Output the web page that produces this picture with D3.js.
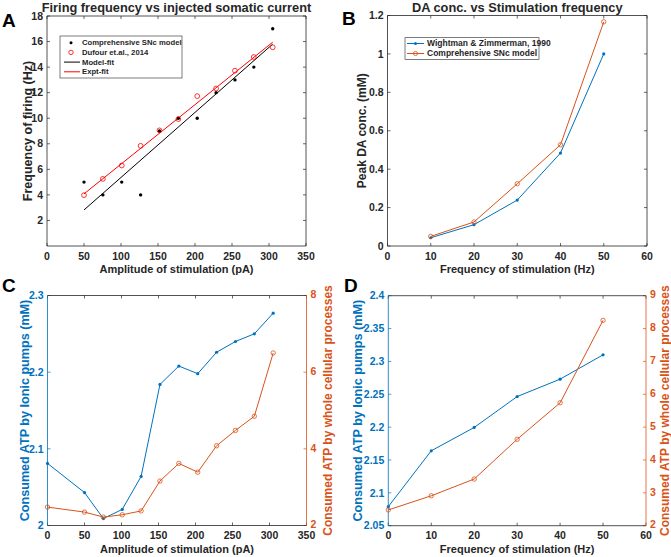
<!DOCTYPE html>
<html lang="en">
<head>
<meta charset="utf-8">
<title>SNc model figure</title>
<script src="https://d3js.org/d3.v7.min.js"></script>
<style>
  body { margin: 0; background: #fff; }
  svg text { font-family: "Liberation Sans", Arial, sans-serif; font-weight: bold; fill: #262626; }
  .tick-label { font-size: 10.5px; }
  .axis-title { font-size: 12px; }
  .x-title { font-size: 11px; }
  .panel-title { font-size: 12.8px; }
  .panel-letter { font-size: 19px; fill: #000; }
</style>
</head>
<body>
<div id="chart"></div>
<script>
// ---- data ----
// A: firing frequency vs injected current
const ampA = [50, 75.5, 101, 126.5, 152, 177.5, 203, 228.5, 254, 279.5, 305];
const modelFreqA = [5, 4, 5, 4, 9, 10, 10, 12, 13, 14, 17];
const dufourFreqA = [3.98, 5.25, 6.3, 7.84, 9.05, 9.93, 11.73, 12.33, 13.72, 14.79, 15.55];
const modelFitA = [[50, 2.82], [305, 15.8]];
const exptFitA = [[50, 4.08], [305, 15.95]];

// B: DA conc vs stimulation frequency
const freqB = [10, 20, 30, 40, 50];
const wightmanB = [0.043, 0.111, 0.239, 0.484, 1.0];
const snModelB = [0.05, 0.125, 0.324, 0.527, 1.167];

// C: consumed ATP vs amplitude
const ampC = [0, 50, 75.5, 101, 126.5, 152, 177.5, 203, 228.5, 254, 279.5, 305];
const pumpsC = [2.081, 2.043, 2.009, 2.021, 2.064, 2.184, 2.208, 2.198, 2.226, 2.240, 2.250, 2.277];
const wholeC = [2.48, 2.35, 2.22, 2.28, 2.38, 3.16, 3.62, 3.39, 4.08, 4.48, 4.85, 6.50];

// D: consumed ATP vs frequency
const freqD = [0, 10, 20, 30, 40, 50];
const pumpsD = [2.079, 2.164, 2.1995, 2.2465, 2.273, 2.310];
const wholeD = [2.48, 2.91, 3.42, 4.63, 5.74, 8.25];

const blue = "#0072BD", orange = "#D95319", axisCol = "#262626";

const svg = d3.select("#chart").append("svg")
    .attr("width", 671).attr("height", 557);
svg.append("rect").attr("width", 671).attr("height", 557).attr("fill", "#fff");

// draws box, ticks and labels; returns scales
function panel(o) {
  const g = svg.append("g");
  const x = d3.scaleLinear().domain(o.xDomain).range([o.left, o.right]);
  const y = d3.scaleLinear().domain(o.yDomain).range([o.bottom, o.top]);
  const y2 = o.y2Domain ? d3.scaleLinear().domain(o.y2Domain).range([o.bottom, o.top]) : null;
  const tl = 3;
  const leftCol = o.leftCol || axisCol, rightCol = o.rightCol || axisCol;

  // x ticks bottom + top (mirrored, inward)
  o.xTicks.forEach(t => {
    g.append("line").attr("x1", x(t)).attr("x2", x(t)).attr("y1", o.bottom).attr("y2", o.bottom - tl)
      .attr("stroke", axisCol).attr("stroke-width", 0.7);
    g.append("line").attr("x1", x(t)).attr("x2", x(t)).attr("y1", o.top).attr("y2", o.top + tl)
      .attr("stroke", axisCol).attr("stroke-width", 0.7);
    g.append("text").attr("class", "tick-label").attr("x", x(t)).attr("y", o.bottom + 13.5)
      .attr("text-anchor", "middle").text(t);
  });
  // left ticks
  o.yTicks.forEach(t => {
    g.append("line").attr("x1", o.left).attr("x2", o.left + tl).attr("y1", y(t)).attr("y2", y(t))
      .attr("stroke", leftCol).attr("stroke-width", 0.7);
    if (!y2) g.append("line").attr("x1", o.right).attr("x2", o.right - tl).attr("y1", y(t)).attr("y2", y(t))
      .attr("stroke", axisCol).attr("stroke-width", 0.7);
    g.append("text").attr("class", "tick-label").attr("x", o.left - 4).attr("y", y(t)).attr("dy", "0.35em")
      .attr("text-anchor", "end").style("fill", leftCol).text(t);
  });
  if (y2) {
    o.y2Ticks.forEach(t => {
      g.append("line").attr("x1", o.right).attr("x2", o.right - tl).attr("y1", y2(t)).attr("y2", y2(t))
        .attr("stroke", rightCol).attr("stroke-width", 0.7);
      g.append("text").attr("class", "tick-label").attr("x", o.right + 4).attr("y", y2(t) - 1).attr("dy", "0.35em")
        .attr("text-anchor", "start").style("fill", rightCol).text(t);
    });
  }
  // box
  g.append("line").attr("x1", o.left).attr("x2", o.right).attr("y1", o.bottom).attr("y2", o.bottom)
    .attr("stroke", axisCol).attr("stroke-width", 0.8);
  g.append("line").attr("x1", o.left).attr("x2", o.right).attr("y1", o.top).attr("y2", o.top)
    .attr("stroke", axisCol).attr("stroke-width", 0.8);
  g.append("line").attr("x1", o.left).attr("x2", o.left).attr("y1", o.top).attr("y2", o.bottom)
    .attr("stroke", leftCol).attr("stroke-width", 0.8);
  g.append("line").attr("x1", o.right).attr("x2", o.right).attr("y1", o.top).attr("y2", o.bottom)
    .attr("stroke", rightCol).attr("stroke-width", 0.8);

  // titles
  g.append("text").attr("class", "x-title").attr("x", (o.left + o.right) / 2).attr("y", o.bottom + 27)
    .attr("text-anchor", "middle").text(o.xLabel);
  g.append("text").attr("class", "axis-title").style("font-size", (o.yLabelSize || 12) + "px")
    .attr("transform", `translate(${o.yLabelX},${(o.top + o.bottom) / 2}) rotate(-90)`)
    .attr("text-anchor", "middle").style("fill", leftCol).text(o.yLabel);
  if (o.y2Label) {
    g.append("text").attr("class", "axis-title")
      .attr("transform", `translate(${o.y2LabelX},${(o.top + o.bottom) / 2}) rotate(-90)`)
      .attr("text-anchor", "middle").style("fill", rightCol).text(o.y2Label);
  }
  if (o.title) {
    g.append("text").attr("class", "panel-title").attr("x", (o.left + o.right) / 2).attr("y", o.top - 4)
      .attr("text-anchor", "middle").text(o.title);
  }
  g.append("text").attr("class", "panel-letter").attr("x", o.letterX).attr("y", o.letterY).text(o.letter);
  return {x, y, y2, g};
}

function lineSeries(g, xs, ys, x, y, color) {
  const pts = xs.map((v, i) => [v, ys[i]]);
  g.append("path").datum(pts)
    .attr("d", d3.line().x(d => x(d[0])).y(d => y(d[1])))
    .attr("fill", "none").attr("stroke", color).attr("stroke-width", 1);
  return pts;
}
function dots(g, pts, x, y, color, r) {
  g.selectAll(null).data(pts).join("circle")
    .attr("cx", d => x(d[0])).attr("cy", d => y(d[1])).attr("r", r).attr("fill", color);
}
function rings(g, pts, x, y, color, r) {
  g.selectAll(null).data(pts).join("circle")
    .attr("cx", d => x(d[0])).attr("cy", d => y(d[1])).attr("r", r)
    .attr("fill", "none").attr("stroke", color).attr("stroke-width", 0.8);
}

// ---------- Panel A ----------
const A = panel({
  left: 47, right: 306, top: 16, bottom: 246,
  xDomain: [0, 350], yDomain: [0, 18],
  xTicks: d3.range(0, 351, 50), yTicks: d3.range(2, 19, 2),
  xLabel: "Amplitude of stimulation (pA)", yLabel: "Frequency of firing (Hz)", yLabelX: 32, yLabelSize: 12.5,
  title: "Firing frequency vs injected somatic current", letter: "A", letterX: 2, letterY: 27
});
A.g.append("path").datum(modelFitA).attr("d", d3.line().x(d => A.x(d[0])).y(d => A.y(d[1])))
  .attr("stroke", "#000").attr("stroke-width", 1).attr("fill", "none");
A.g.append("path").datum(exptFitA).attr("d", d3.line().x(d => A.x(d[0])).y(d => A.y(d[1])))
  .attr("stroke", "#ff0000").attr("stroke-width", 1).attr("fill", "none");
dots(A.g, ampA.map((v, i) => [v, modelFreqA[i]]), A.x, A.y, "#000", 1.7);
rings(A.g, ampA.map((v, i) => [v, dufourFreqA[i]]), A.x, A.y, "#ff0000", 2.4);

// legend A
const legA = A.g.append("g").attr("transform", "translate(60,36)");
legA.append("rect").attr("width", 122).attr("height", 42).attr("fill", "#fff")
  .attr("stroke", axisCol).attr("stroke-width", 0.6);
const legAItems = [
  {label: "Comprehensive SNc model", type: "dot", color: "#000"},
  {label: "Dufour et.al., 2014", type: "ring", color: "#ff0000"},
  {label: "Model-fit", type: "line", color: "#000"},
  {label: "Expt-fit", type: "line", color: "#ff0000"}
];
legAItems.forEach((d, i) => {
  const yy = 6.7 + i * 9.7;
  if (d.type === "dot") legA.append("circle").attr("cx", 11).attr("cy", yy).attr("r", 1.5).attr("fill", d.color);
  if (d.type === "ring") legA.append("circle").attr("cx", 11).attr("cy", yy).attr("r", 2.2)
    .attr("fill", "none").attr("stroke", d.color).attr("stroke-width", 0.8);
  if (d.type === "line") legA.append("line").attr("x1", 4).attr("x2", 20).attr("y1", yy).attr("y2", yy)
    .attr("stroke", d.color).attr("stroke-width", 1);
  legA.append("text").style("font-size", "7.7px").attr("x", 22).attr("y", yy).attr("dy", "0.35em").text(d.label);
});

// ---------- Panel B ----------
const B = panel({
  left: 387.5, right: 647, top: 15.5, bottom: 246,
  xDomain: [0, 60], yDomain: [0, 1.2],
  xTicks: d3.range(0, 61, 10), yTicks: [0, 0.2, 0.4, 0.6, 0.8, 1, 1.2],
  xLabel: "Frequency of stimulation (Hz)", yLabel: "Peak DA conc. (mM)", yLabelX: 366,
  title: "DA conc. vs Stimulation frequency", letter: "B", letterX: 342, letterY: 25
});
const bW = lineSeries(B.g, freqB, wightmanB, B.x, B.y, blue);
dots(B.g, bW, B.x, B.y, blue, 1.6);
const bS = lineSeries(B.g, freqB, snModelB, B.x, B.y, orange);
rings(B.g, bS, B.x, B.y, orange, 2.2);

const legB = B.g.append("g").attr("transform", "translate(405,37.7)");
legB.append("rect").attr("width", 134).attr("height", 21.6).attr("fill", "#fff")
  .attr("stroke", axisCol).attr("stroke-width", 0.6);
[{label: "Wightman & Zimmerman, 1990", color: blue, type: "dot"},
 {label: "Comprehensive SNc model", color: orange, type: "ring"}].forEach((d, i) => {
  const yy = 5.8 + i * 10;
  legB.append("line").attr("x1", 2).attr("x2", 19).attr("y1", yy).attr("y2", yy)
    .attr("stroke", d.color).attr("stroke-width", 1);
  if (d.type === "dot") legB.append("circle").attr("cx", 10.5).attr("cy", yy).attr("r", 1.5).attr("fill", d.color);
  else legB.append("circle").attr("cx", 10.5).attr("cy", yy).attr("r", 2.1)
    .attr("fill", "none").attr("stroke", d.color).attr("stroke-width", 0.8);
  legB.append("text").style("font-size", "8.5px").attr("x", 22).attr("y", yy).attr("dy", "0.35em").text(d.label);
});

// ---------- Panel C ----------
const C = panel({
  left: 47.5, right: 306.5, top: 295.5, bottom: 525.5,
  xDomain: [0, 350], yDomain: [2, 2.3], y2Domain: [2, 8],
  xTicks: d3.range(0, 351, 50), yTicks: [2, 2.1, 2.2, 2.3], y2Ticks: [2, 4, 6, 8],
  leftCol: blue, rightCol: orange,
  xLabel: "Amplitude of stimulation (pA)",
  yLabel: "Consumed ATP by Ionic pumps (mM)", yLabelX: 29, yLabelSize: 12.6,
  y2Label: "Consumed ATP by whole cellular processes", y2LabelX: 332,
  letter: "C", letterX: 2, letterY: 292
});
const cP = lineSeries(C.g, ampC, pumpsC, C.x, C.y, blue);
dots(C.g, cP, C.x, C.y, blue, 1.6);
const cW = lineSeries(C.g, ampC, wholeC, C.x, C.y2, orange);
rings(C.g, cW, C.x, C.y2, orange, 2.2);

// ---------- Panel D ----------
const D = panel({
  left: 388.3, right: 646, top: 295.7, bottom: 525.7,
  xDomain: [0, 60], yDomain: [2.05, 2.4], y2Domain: [2, 9],
  xTicks: d3.range(0, 61, 10), yTicks: [2.05, 2.1, 2.15, 2.2, 2.25, 2.3, 2.35, 2.4], y2Ticks: d3.range(2, 10),
  leftCol: blue, rightCol: orange,
  xLabel: "Frequency of stimulation (Hz)",
  yLabel: "Consumed ATP by Ionic pumps (mM)", yLabelX: 362, yLabelSize: 12.6,
  y2Label: "Consumed ATP by whole cellular processes", y2LabelX: 669,
  letter: "D", letterX: 344, letterY: 292
});
const dP = lineSeries(D.g, freqD, pumpsD, D.x, D.y, blue);
dots(D.g, dP, D.x, D.y, blue, 1.6);
const dW = lineSeries(D.g, freqD, wholeD, D.x, D.y2, orange);
rings(D.g, dW, D.x, D.y2, orange, 2.2);
</script>
</body>
</html>
